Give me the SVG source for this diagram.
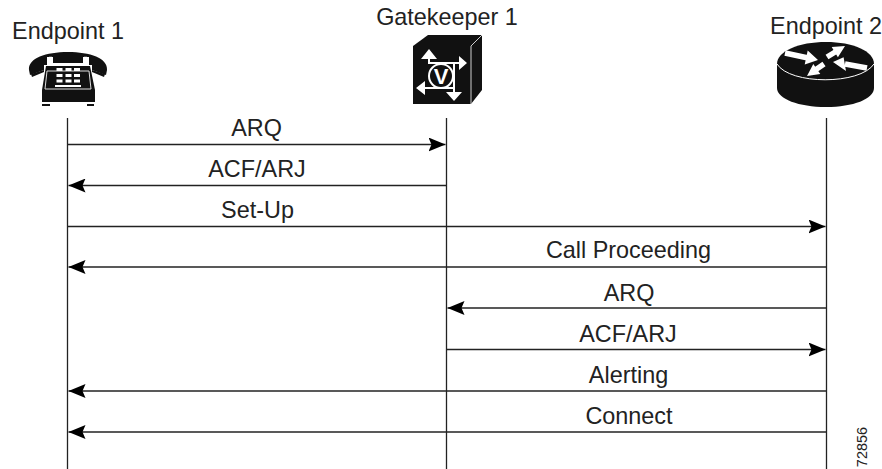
<svg xmlns="http://www.w3.org/2000/svg" width="882" height="469" viewBox="0 0 882 469">
<style>
text{font-family:"Liberation Sans",Arial,sans-serif;font-size:23.4px;fill:#222;text-anchor:middle}
.l{stroke:#222;stroke-width:1.3;fill:none}
.w{fill:#fff;stroke:none}
.wl{fill:none;stroke:#fff;stroke-width:2}
.wt{fill:none;stroke:#fff;stroke-width:5.500}
</style>
<defs>
<marker id="a" markerUnits="userSpaceOnUse" markerWidth="18" markerHeight="14" refX="17" refY="7" orient="auto" viewBox="0 0 18 14"><path d="M0 0L17 7L0 14L3 7Z" fill="#000"/></marker>
</defs>
<rect width="882" height="469" fill="#fff"/>
<g id="lifelines">
<path class="l" d="M67.500 118V469M446.500 118V469M826.500 118V469"/>
</g>
<g id="endpoint-1">
<text x="68" y="39">Endpoint 1</text>
<path fill="#111" d="M29 70C28 58 46 52 68 52C90 52 108 58 107 70L106 75L92 70V65H89V57H83V63H53V57H47V65H44V70L30 75Z"/>
<path fill="#fff" d="M49 57H52V63H49ZM84 57H87V63H84Z" stroke="#fff" stroke-width=".5"/>
<path fill="#111" d="M31 74L44 70V72L32 77ZM105 74L92 70V72L104 77Z"/>
<path fill="#111" d="M46 66H90L95 90V102H42V90Z"/>
<path d="M42 104H50V106H42ZM87 104H94V106H87Z" fill="#111"/>
<path fill="none" stroke="#ddd" stroke-width="1" d="M47 71H89L91 89H45Z"/>
<path class="w" d="M56.500 68h6v3h-6zM65.500 68h6v3h-6zM74 68h6v3h-6zM56.500 74h6v3h-6zM65.500 74h6v3h-6zM74 74h6v3h-6zM56.500 79.500h6v3h-6zM65.500 79.500h6v3h-6zM74 79.500h6v3h-6zM55 85h26v2H55z"/>
</g>
<g id="gatekeeper-1">
<text x="447" y="25">Gatekeeper 1</text>
<path fill="#111" d="M413 46L428 35H482V90L471 104H413Z"/>
<path fill="none" stroke="#fff" stroke-width=".8" d="M471 46L482 35M471 46V104"/>
<path class="wl" d="M429 58V63H459M424 88H454M454 63V93"/>
<circle cx="441" cy="76" r="12" fill="#111" stroke="#fff" stroke-width="2"/>
<path class="w" d="M429 49L437 59H421ZM467 63L459 56V70ZM416 88L425 81V95ZM454 101L446 92H462Z"/>
<text x="441" y="84" style="font-size:22px;font-weight:bold;fill:#fff">V</text>
</g>
<g id="endpoint-2">
<text x="826" y="34">Endpoint 2</text>
<path fill="#111" d="M777 64C777 51 799 42 826 42C853 42 874 51 874 64V88C874 99 853 107 826 107C799 107 777 99 777 88Z"/>
<path fill="none" stroke="#fff" stroke-width="1" d="M777 64C790 85 860 85 874 64"/>
<path class="wt" d="M785 53L807 57.700M827 57L836 51.500M845 64L867 68M816 69.500L824 64"/>
<path class="w" d="M818 60L804.700 64.400L807.700 50.600ZM845 46L837.900 57.300L831.700 47.100ZM833 62L846 71L843.600 57.200ZM807 76L820.300 73.900L813.300 64.100Z"/>
</g>
<g id="connectors">
<g class="l">
<path marker-end="url(#a)" d="M67.500 144.500H445.500"/>
<path marker-end="url(#a)" d="M446.500 185.500H68.500"/>
<path marker-end="url(#a)" d="M67.500 226.500H825.500"/>
<path marker-end="url(#a)" d="M826.500 267H68.500"/>
<path marker-end="url(#a)" d="M826.500 308H447.500"/>
<path marker-end="url(#a)" d="M446.500 349.500H825.500"/>
<path marker-end="url(#a)" d="M826.500 391H68.500"/>
<path marker-end="url(#a)" d="M826.500 432H68.500"/>
</g>
</g>
<g id="labels">
<text x="256.500" y="136">ARQ</text>
<text x="257" y="177">ACF/ARJ</text>
<text x="257.500" y="218">Set-Up</text>
<text x="628.500" y="258">Call Proceeding</text>
<text x="629" y="300.500">ARQ</text>
<text x="628" y="341.500">ACF/ARJ</text>
<text x="628.500" y="383">Alerting</text>
<text x="629" y="424">Connect</text>
<text transform="translate(867 447) rotate(-90)" x="0" y="0" style="font-size:14.500px">72856</text>
</g>
</svg>
